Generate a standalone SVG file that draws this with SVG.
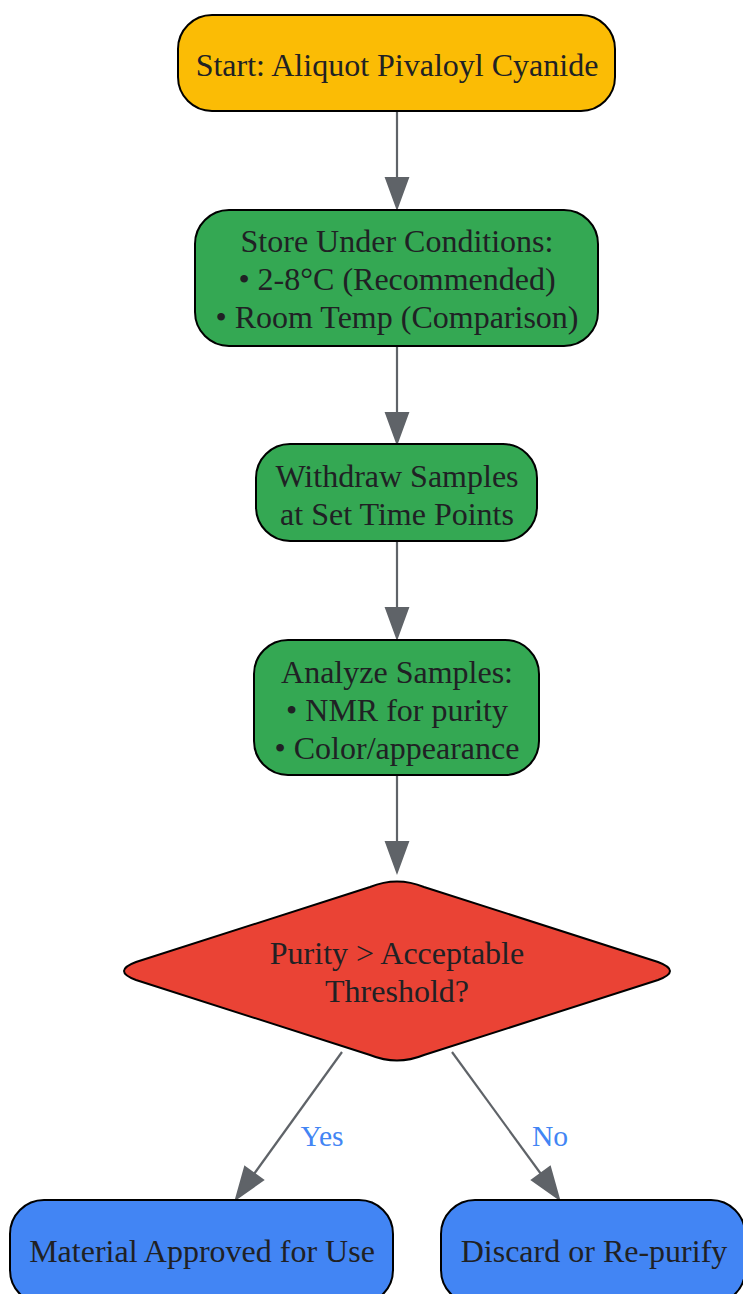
<svg xmlns="http://www.w3.org/2000/svg" width="743" height="1294" viewBox="0 0 743 1294">
<defs>
<style>
.n{stroke:#000;stroke-width:2}
.t{font-family:"Liberation Serif","Times New Roman",serif;font-size:32px;fill:#202124;text-anchor:middle;dominant-baseline:central}
.e{stroke:#5f6368;stroke-width:2.2;fill:none}
.ah{fill:#5f6368;stroke:#5f6368;stroke-width:2}
.l{font-family:"Liberation Serif","Times New Roman",serif;font-size:29.6px;fill:#4285F4;text-anchor:middle;dominant-baseline:central}
</style>
</defs>
<g id="edges">
<line class="e" x1="397" y1="111" x2="397" y2="178"/>
<polygon class="ah" points="386,178 408,178 397,208"/>
<line class="e" x1="397" y1="346" x2="397" y2="413"/>
<polygon class="ah" points="386,413 408,413 397,443"/>
<line class="e" x1="397" y1="541" x2="397" y2="608"/>
<polygon class="ah" points="386,608 408,608 397,638"/>
<line class="e" x1="397" y1="775" x2="397" y2="842"/>
<polygon class="ah" points="386,842 408,842 397,872"/>
<line class="e" x1="342" y1="1052" x2="254" y2="1174"/>
<polygon class="ah" points="245,1167 263,1180 236,1199"/>
<line class="e" x1="452" y1="1052" x2="541" y2="1174"/>
<polygon class="ah" points="532,1180 550,1167 559,1199"/>
<text class="l" x="322" y="1136">Yes</text>
<text class="l" x="550" y="1136">No</text>
</g>
<g id="start">
<rect class="n" x="178" y="15" width="437" height="96" rx="34" fill="#FBBC05"/>
<text class="t" x="397" y="65">Start: Aliquot Pivaloyl Cyanide</text>
</g>
<g id="store">
<rect class="n" x="195" y="210" width="403" height="136" rx="34" fill="#34A853"/>
<text class="t" x="397" y="241">Store Under Conditions:</text>
<text class="t" x="397" y="279">• 2-8°C (Recommended)</text>
<text class="t" x="397" y="317">• Room Temp (Comparison)</text>
</g>
<g id="withdraw">
<rect class="n" x="256" y="444" width="281" height="97" rx="34" fill="#34A853"/>
<text class="t" x="397" y="476">Withdraw Samples</text>
<text class="t" x="397" y="514">at Set Time Points</text>
</g>
<g id="analyze">
<rect class="n" x="254" y="640" width="285" height="135" rx="34" fill="#34A853"/>
<text class="t" x="397" y="672">Analyze Samples:</text>
<text class="t" x="397" y="710">• NMR for purity</text>
<text class="t" x="397" y="748">• Color/appearance</text>
</g>
<g id="decision">
<path class="n" fill="#EA4335" d="M370,887 Q397,876 424,887 L658,962 Q682,971 658,980 L424,1055 Q397,1066 370,1055 L136,980 Q112,971 136,962 Z"/>
<text class="t" x="397" y="953">Purity &gt; Acceptable</text>
<text class="t" x="397" y="991">Threshold?</text>
</g>
<g id="approved">
<rect class="n" x="10" y="1200" width="383" height="104" rx="34" fill="#4285F4"/>
<text class="t" x="202" y="1251">Material Approved for Use</text>
</g>
<g id="discard">
<rect class="n" x="441" y="1200" width="304" height="104" rx="34" fill="#4285F4"/>
<text class="t" x="594" y="1251">Discard or Re-purify</text>
</g>
</svg>
